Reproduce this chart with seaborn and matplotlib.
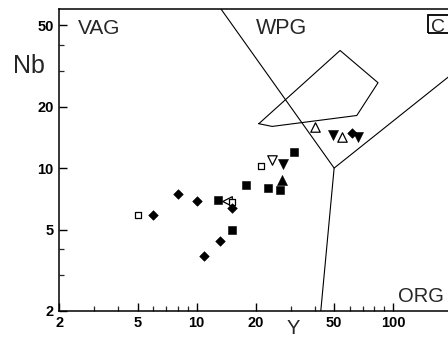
import matplotlib
matplotlib.use('Agg')
import matplotlib.pyplot as plt
import seaborn as sns
import pandas as pd
from matplotlib.ticker import FixedLocator, NullFormatter, FixedFormatter
from matplotlib.patches import Rectangle

# ---- data (Y ppm, Nb ppm) ----
diamond_y = [6.0, 8.0, 10.0, 15.2, 13.2, 10.9, 61.4]
diamond_nb = [5.9, 7.45, 6.9, 6.4, 4.4, 3.7, 14.8]
fsquare_y = [12.8, 15.2, 17.9, 23.1, 26.5, 31.4]
fsquare_nb = [7.0, 5.0, 8.3, 8.0, 7.85, 12.0]
osquare_y = [5.05, 15.1, 21.2]
osquare_nb = [5.9, 6.8, 10.2]
odown_y = [24.1]
odown_nb = [10.9]
fdown_y = [27.4, 49.5, 66.4]
fdown_nb = [10.5, 14.5, 14.2]
fup_y = [27.2]
fup_nb = [8.7]
oup_y = [40.0, 54.6]
oup_nb = [15.9, 14.2]
oleft_y = [14.2]
oleft_nb = [6.9]

# ---- discrimination boundaries ----
wpg_y = [1, 50, 1000]
wpg_nb = [2000, 10, 100]
org_y = [40, 50]
org_nb = [1, 10]
field_y = [20.7, 24.2, 65.2, 83.6, 53.6, 20.7]
field_nb = [16.5, 16.0, 18.1, 26.2, 37.7, 16.5]

x_major = [2, 5, 10, 20, 50, 100]
x_labels = ['2', '5', '10', '20', '50', '100']
x_minor = [3, 4, 6, 7, 8, 9, 30, 40, 60, 70, 80, 90]
y_major = [2, 5, 10, 20, 50]
y_labels = ['2', '5', '10', '20', '50']
y_minor = [3, 4, 30, 40]

groups = [
    ('oleft', oleft_y, oleft_nb, '<', 48, 'white'),
    ('osquare', osquare_y, osquare_nb, 's', 22, 'white'),
    ('diamond', diamond_y, diamond_nb, 'D', 24, 'black'),
    ('fsquare', fsquare_y, fsquare_nb, 's', 26, 'black'),
    ('odown', odown_y, odown_nb, 'v', 46, 'white'),
    ('fdown', fdown_y, fdown_nb, 'v', 52, 'black'),
    ('fup', fup_y, fup_nb, '^', 52, 'black'),
    ('oup', oup_y, oup_nb, '^', 46, 'white'),
]

sns.set_style('ticks')
plt.rcParams['font.family'] = ['Liberation Sans', 'DejaVu Sans']

fig = plt.figure(figsize=(4.48, 3.4), dpi=100)
ax = fig.add_axes([59.3 / 448, 29.3 / 340, (452.5 - 59.3) / 448, (310.7 - 9.3) / 340])

ax.plot(wpg_y, wpg_nb, color='black', lw=0.8, zorder=2)
ax.plot(org_y, org_nb, color='black', lw=0.8, zorder=2)
ax.plot(field_y, field_nb, color='black', lw=0.8, zorder=2)

for name, xs, ys, m, s, fc in groups:
    df = pd.DataFrame({'Y': xs, 'Nb': ys})
    sns.scatterplot(data=df, x='Y', y='Nb', marker=m, s=s, color=fc,
                    edgecolor='black', linewidth=0.9 if fc == 'white' else 0.4,
                    ax=ax, legend=False, zorder=3)

ax.set_xscale('log')
ax.set_yscale('log')
ax.set_xlim(2, 200)
ax.set_ylim(2, 60)
ax.xaxis.set_major_locator(FixedLocator(x_major))
ax.xaxis.set_major_formatter(FixedFormatter(x_labels))
ax.xaxis.set_minor_locator(FixedLocator(x_minor))
ax.xaxis.set_minor_formatter(NullFormatter())
ax.yaxis.set_major_locator(FixedLocator(y_major))
ax.yaxis.set_major_formatter(FixedFormatter(y_labels))
ax.yaxis.set_minor_locator(FixedLocator(y_minor))
ax.yaxis.set_minor_formatter(NullFormatter())

ax.tick_params(which='major', direction='in', length=6, width=1.0, pad=4,
               labelsize=10.5, colors='black')
ax.tick_params(which='minor', direction='in', length=3.5, width=0.9)
for lab in ax.get_xticklabels() + ax.get_yticklabels():
    lab.set_fontweight('bold')
for sp in ['left', 'bottom', 'top']:
    ax.spines[sp].set_linewidth(1.1)
    ax.spines[sp].set_color('black')
ax.spines['right'].set_visible(False)
ax.set_xlabel('')
ax.set_ylabel('')

fig.text(13.3 / 448, 1 - 72.7 / 340, 'Nb', fontsize=18, ha='left', va='baseline')
fig.text(286.5 / 448, 1 - 334 / 340, 'Y', fontsize=14.5, ha='left', va='baseline')
fig.text(78 / 448, 1 - 34 / 340, 'VAG', fontsize=15, ha='left', va='baseline')
fig.text(256 / 448, 1 - 34 / 340, 'WPG', fontsize=15.5, ha='left', va='baseline')
fig.text(398 / 448, 1 - 301.7 / 340, 'ORG', fontsize=14.5, ha='left', va='baseline')

fig.patches.append(Rectangle((428 / 448, 1 - 33.3 / 340), 40 / 448, 18.3 / 340,
                             transform=fig.transFigure, fill=False,
                             edgecolor='black', lw=1.3))
fig.text(431 / 448, 1 - 31.5 / 340, 'C', fontsize=14, ha='left', va='baseline')

fig.savefig('out.png', dpi=100)
